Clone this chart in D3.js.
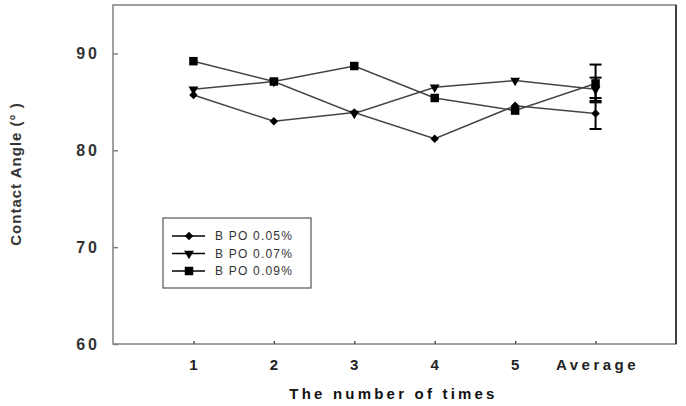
<!DOCTYPE html>
<html>
<head>
<meta charset="utf-8">
<script src="https://cdn.jsdelivr.net/npm/d3@7"></script>
<style>
body { margin: 0; background: #fff; }
svg { display: block; font-family: Arial, "Liberation Sans", sans-serif; }
</style>
</head>
<body>
<svg id="chart" width="686" height="406"></svg>
<script>
var categories = ["1", "2", "3", "4", "5", "Average"];
var seriesNames = ["B PO 0.05%", "B PO 0.07%", "B PO 0.09%"];
var bpo005 = [85.7, 83.0, 83.9, 81.2, 84.6, 83.8];
var bpo007 = [86.3, 87.1, 83.8, 86.5, 87.2, 86.3];
var bpo009 = [89.2, 87.1, 88.7, 85.4, 84.1, 86.9];
var avgErr = [1.6, 1.2, 1.95];
var yTicks = [60, 70, 80, 90];

var svg = d3.select("#chart");
var margin = { top: 5, right: 10, bottom: 62, left: 113 };
var width = 686, height = 406;

var x = d3.scaleLinear()
	.domain([0, 7])
	.range([margin.left, width - margin.right]);
var y = d3.scaleLinear()
	.domain([60, 95])
	.range([height - margin.bottom, margin.top]);

var allSeries = [
	{ name: seriesNames[0], values: bpo005, err: avgErr[0], shape: d3.symbolSquare, size: 36, rot: 45 },
	{ name: seriesNames[1], values: bpo007, err: avgErr[1], shape: d3.symbolTriangle, size: 42, rot: 180 },
	{ name: seriesNames[2], values: bpo009, err: avgErr[2], shape: d3.symbolSquare, size: 72, rot: 0 }
];

// plot box
svg.append("rect")
	.attr("x", x(0)).attr("y", y(95))
	.attr("width", x(7) - x(0)).attr("height", y(60) - y(95))
	.attr("fill", "none").attr("stroke", "#808080").attr("stroke-width", 1.5);
svg.append("line")
	.attr("x1", x(7)).attr("x2", x(7)).attr("y1", y(95)).attr("y2", y(60))
	.attr("stroke", "#222").attr("stroke-width", 1.5);

// y axis
var yAxis = svg.append("g")
	.attr("transform", `translate(${x(0)},0)`)
	.call(d3.axisRight(y).tickValues(yTicks).tickSize(5).tickFormat(""));
yAxis.select(".domain").remove();
yAxis.selectAll("line").attr("stroke", "#808080").attr("stroke-width", 1.5);
svg.selectAll(".ylab")
	.data(yTicks)
	.enter().append("text")
	.attr("x", 100)
	.attr("y", d => y(d) + 6)
	.attr("text-anchor", "end")
	.attr("font-size", "16px")
	.attr("font-weight", "bold")
	.attr("letter-spacing", "3px")
	.attr("fill", "#333")
	.text(d => d);

// x axis
var xAxis = svg.append("g")
	.attr("transform", `translate(0,${y(60)})`)
	.call(d3.axisTop(x).tickValues(d3.range(1, 7)).tickSize(3).tickFormat(""));
xAxis.select(".domain").remove();
xAxis.selectAll("line").attr("stroke", "#555").attr("stroke-width", 1.5);
svg.selectAll(".xlab")
	.data(categories)
	.enter().append("text")
	.attr("x", (d, i) => x(i + 1) + (i == 5 ? 2 : 0))
	.attr("y", 370)
	.attr("text-anchor", "middle")
	.attr("font-size", "15px")
	.attr("font-weight", "bold")
	.attr("letter-spacing", d => d.length > 1 ? "3.5px" : "0px")
	.attr("fill", "#222")
	.text(d => d);

// axis titles
svg.append("text")
	.attr("x", (x(0) + x(7)) / 2 - 1)
	.attr("y", 399)
	.attr("text-anchor", "middle")
	.attr("font-size", "15px")
	.attr("font-weight", "bold")
	.attr("letter-spacing", "3.2px")
	.attr("fill", "#111")
	.text("The number of times");
svg.append("text")
	.attr("transform", "translate(21,174) rotate(-90)")
	.attr("text-anchor", "middle")
	.attr("font-size", "15px")
	.attr("font-weight", "bold")
	.attr("letter-spacing", "1px")
	.attr("fill", "#333")
	.text("Contact Angle (° )");

// lines
var line = d3.line()
	.x((d, i) => x(i + 1))
	.y(d => y(d));
allSeries.forEach(s => {
	svg.append("path")
		.datum(s.values)
		.attr("d", line)
		.attr("fill", "none")
		.attr("stroke", "#444")
		.attr("stroke-width", 1.5);
});

// error bars on average
allSeries.forEach(s => {
	var avg = s.values[5];
	var g = svg.append("g").attr("stroke", "#000").attr("stroke-width", 2);
	g.append("line")
		.attr("x1", x(6)).attr("x2", x(6))
		.attr("y1", y(avg - s.err)).attr("y2", y(avg + s.err));
	[avg - s.err, avg + s.err].forEach(v => {
		g.append("line")
			.attr("x1", x(6) - 6).attr("x2", x(6) + 6)
			.attr("y1", y(v)).attr("y2", y(v));
	});
});

// markers
allSeries.forEach(s => {
	svg.selectAll(null)
		.data(s.values)
		.enter().append("path")
		.attr("d", d3.symbol().type(s.shape).size(s.size))
		.attr("transform", (d, i) => `translate(${x(i + 1)},${y(d)}) rotate(${s.rot})`)
		.attr("fill", "#000");
});

// legend
var lg = svg.append("g");
lg.append("rect")
	.attr("x", 163).attr("y", 218)
	.attr("width", 148).attr("height", 70)
	.attr("fill", "#fff").attr("stroke", "#555").attr("stroke-width", 1.2);
allSeries.forEach((s, i) => {
	var ly = 236 + i * 17.5;
	lg.append("line")
		.attr("x1", 172).attr("x2", 205)
		.attr("y1", ly).attr("y2", ly)
		.attr("stroke", "#000").attr("stroke-width", 1.5);
	lg.append("path")
		.attr("d", d3.symbol().type(s.shape).size(s.size))
		.attr("transform", `translate(189,${ly}) rotate(${s.rot})`)
		.attr("fill", "#000");
	lg.append("text")
		.attr("x", 215)
		.attr("y", ly + 4)
		.attr("font-size", "12px")
		.attr("letter-spacing", "1.2px")
		.attr("fill", "#333")
		.text(s.name);
});
</script>
</body>
</html>
